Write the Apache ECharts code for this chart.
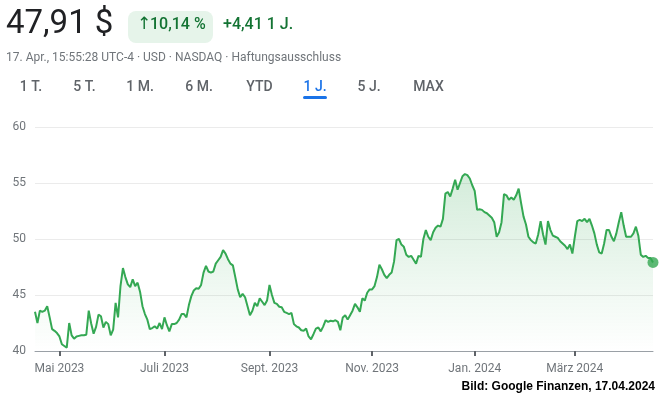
<!DOCTYPE html>
<html>
<head>
<meta charset="utf-8">
<script src="https://cdn.jsdelivr.net/npm/echarts@6/dist/echarts.min.js"></script>
<style>
    html, body { margin: 0; padding: 0; background: #fff; }
    #chart { width: 664px; height: 398px; }
</style>
</head>
<body>
<div id="chart"></div>
<script>
    // Schlusskurse pro Handelstag, 17.04.2023 - 17.04.2024
    var prices = [
        43.5, 42.5, 43.6, 43.5, 43.6, 44.0, 43.0, 41.95, 41.8, 41.6,
        41.3, 40.6, 40.45, 40.3, 42.5, 41.4, 41.1, 41.3, 41.35, 41.4,
        41.4, 41.45, 43.6, 42.45, 41.55, 42.15, 43.25, 43.1, 42.1, 42.6,
        42.4, 41.4, 41.9, 44.3, 43.0, 45.8, 47.4, 46.6, 45.95, 45.7,
        46.4, 45.8, 46.1, 45.3, 44.0, 43.3, 42.8, 41.95, 42.05, 42.2,
        42.0, 42.5, 41.95, 43.0, 42.3, 41.75, 42.4, 42.4, 42.5, 42.8,
        43.3, 43.3, 43.0, 44.1, 44.9, 45.4, 45.6, 45.55, 45.9, 47.0,
        47.6, 47.1, 47.0, 47.1, 47.8, 48.1, 48.4, 49.0, 48.7, 48.2,
        47.8, 47.65, 46.6, 45.5, 44.8, 45.1, 44.8, 44.0, 43.2, 43.6,
        44.3, 44.0, 44.7, 44.4, 44.1, 44.5, 45.9, 45.0, 44.3, 44.2,
        43.95, 43.9, 43.5, 43.4, 43.3, 43.4, 42.4, 42.2, 42.1, 41.85,
        41.8, 42.0, 41.3, 41.05, 41.5, 42.0, 42.1, 41.75, 42.2, 42.75,
        42.6, 42.7, 42.65, 42.75, 42.6, 41.85, 43.0, 43.2, 42.8, 43.2,
        43.6, 44.2, 43.9, 43.5, 44.7, 44.5, 45.2, 45.5, 45.5, 45.8,
        46.6, 47.7, 47.3, 46.8, 46.5, 46.8, 47.0, 48.0, 49.9, 50.0,
        49.5, 49.3, 48.6, 48.4, 48.5, 48.15, 47.8, 48.5, 48.4, 50.0,
        50.8, 50.2, 49.9, 50.6, 51.0, 51.2, 51.1, 51.8, 54.05, 54.2,
        53.8, 54.5, 55.3, 54.4, 55.0, 55.6, 55.8, 55.7, 55.4, 54.8,
        54.3, 52.6, 52.65, 52.6, 52.4, 52.3, 52.1, 51.9, 51.5, 50.2,
        50.6, 51.5, 54.0, 53.9, 53.5, 53.7, 53.5, 53.9, 54.5, 53.2,
        52.0, 51.3, 50.2, 49.9, 49.7, 49.6, 50.4, 51.6, 50.4, 49.5,
        51.6, 50.8, 50.3, 50.2, 50.1, 49.8, 49.6, 49.4, 49.1, 49.5,
        48.7, 50.2, 51.6, 51.7, 51.6, 51.8, 51.5, 51.8, 51.2, 50.5,
        49.5, 48.8, 48.7, 49.6, 50.8, 50.8, 50.2, 49.8, 50.5, 51.5,
        52.4, 51.2, 50.2, 50.2, 50.2, 50.5, 51.1, 50.3, 48.6, 48.4,
        48.5, 48.3, 48.3, 47.91
    ];
    // erster Handelstag der beschrifteten Monate (Index in prices)
    var tickIndex = [10, 53, 96, 138, 180, 221];
    var tickLabels = ['Mai 2023', 'Juli 2023', 'Sept. 2023', 'Nov. 2023', 'Jan. 2024', 'März 2024'];
    var yTicks = [40, 45, 50, 55, 60];
    var tabs = ['1 T.', '5 T.', '1 M.', '6 M.', 'YTD', '1 J.', '5 J.', 'MAX'];
    var tabX = [31, 84.5, 140, 199, 259.5, 315, 369, 428.5];

    var green = '#34a853';
    var days = prices.map(function (p, i) { return i; });
    var last = prices.length - 1;

    var graphics = [
        { type: 'text', left: 6, top: 8, style: { text: '47,91 $', fontSize: 33, fontFamily: 'Roboto', fill: '#202124' } },
        { type: 'rect', shape: { x: 128, y: 11, width: 85, height: 32, r: 8 }, style: { fill: '#e6f4ea' } },
        { type: 'text', left: 137, top: 16, style: { text: '↑', fontSize: 17, fontFamily: '"DejaVu Sans"', fill: '#137333' } },
        { type: 'text', left: 150, top: 17, style: { text: '10,14 %', fontSize: 16, fontFamily: 'Roboto', fontWeight: 500, fill: '#137333' } },
        { type: 'text', left: 223, top: 17, style: { text: '+4,41 1 J.', fontSize: 16, fontFamily: 'Roboto', fontWeight: 500, fill: '#137333' } },
        { type: 'text', left: 6, top: 52, style: { text: '17. Apr., 15:55:28 UTC-4 · USD · NASDAQ · Haftungsausschluss', fontSize: 12, fontFamily: 'Roboto', fill: '#70757a' } },
        { type: 'rect', shape: { x: 303, y: 96, width: 24, height: 3, r: 1.5 }, style: { fill: '#1a73e8' } },
        { type: 'text', right: 9, top: 381, style: { text: 'Bild: Google Finanzen, 17.04.2024', fontSize: 12, fontWeight: 'bold', fontFamily: '"Liberation Sans Narrow", "Liberation Sans", sans-serif', fill: '#000' } }
    ];
    tabs.forEach(function (t, i) {
        graphics.push({
            type: 'text', x: tabX[i], y: 87,
            style: {
                text: t, fontSize: 14, fontFamily: 'Roboto', fontWeight: 500,
                fill: t === '1 J.' ? '#1a73e8' : '#5f6368', align: 'center', verticalAlign: 'middle'
            }
        });
    });

    var chart = echarts.init(document.getElementById('chart'));
    chart.setOption({
        animation: false,
        graphic: graphics,
        grid: { left: 35, right: 11, top: 127, bottom: 47 },
        xAxis: {
            type: 'category',
            data: days,
            boundaryGap: false,
            axisLine: { lineStyle: { color: '#9aa0a6', width: 1 } },
            axisTick: {
                show: true, length: 5, alignWithLabel: true,
                lineStyle: { color: '#5f6368', width: 2 },
                interval: function (i) { return tickIndex.indexOf(i) >= 0; }
            },
            axisLabel: {
                interval: function (i) { return tickIndex.indexOf(i) >= 0; },
                formatter: function (v, i) { return tickLabels[tickIndex.indexOf(i)]; },
                color: '#70757a', fontSize: 12, fontFamily: 'Roboto', margin: 12
            },
            splitLine: { show: false }
        },
        yAxis: {
            type: 'value',
            min: yTicks[0],
            max: yTicks[yTicks.length - 1],
            interval: 5,
            axisLine: { show: false },
            axisTick: { show: false },
            axisLabel: { color: '#70757a', fontSize: 12, fontFamily: 'Roboto', margin: 9 },
            splitLine: { lineStyle: { color: '#ebebeb', width: 1 } }
        },
        series: [
            {
                type: 'line',
                data: prices,
                showSymbol: false,
                symbol: 'none',
                lineStyle: { color: green, width: 2 },
                areaStyle: {
                    color: new echarts.graphic.LinearGradient(0, 0, 0, 1, [
                        { offset: 0, color: 'rgba(52,168,83,0.30)' },
                        { offset: 1, color: 'rgba(52,168,83,0)' }
                    ])
                },
                z: 2
            },
            {
                type: 'scatter',
                data: [[last, prices[last]]],
                symbolSize: 11,
                itemStyle: { color: green },
                z: 3
            }
        ]
    });
</script>
</body>
</html>
